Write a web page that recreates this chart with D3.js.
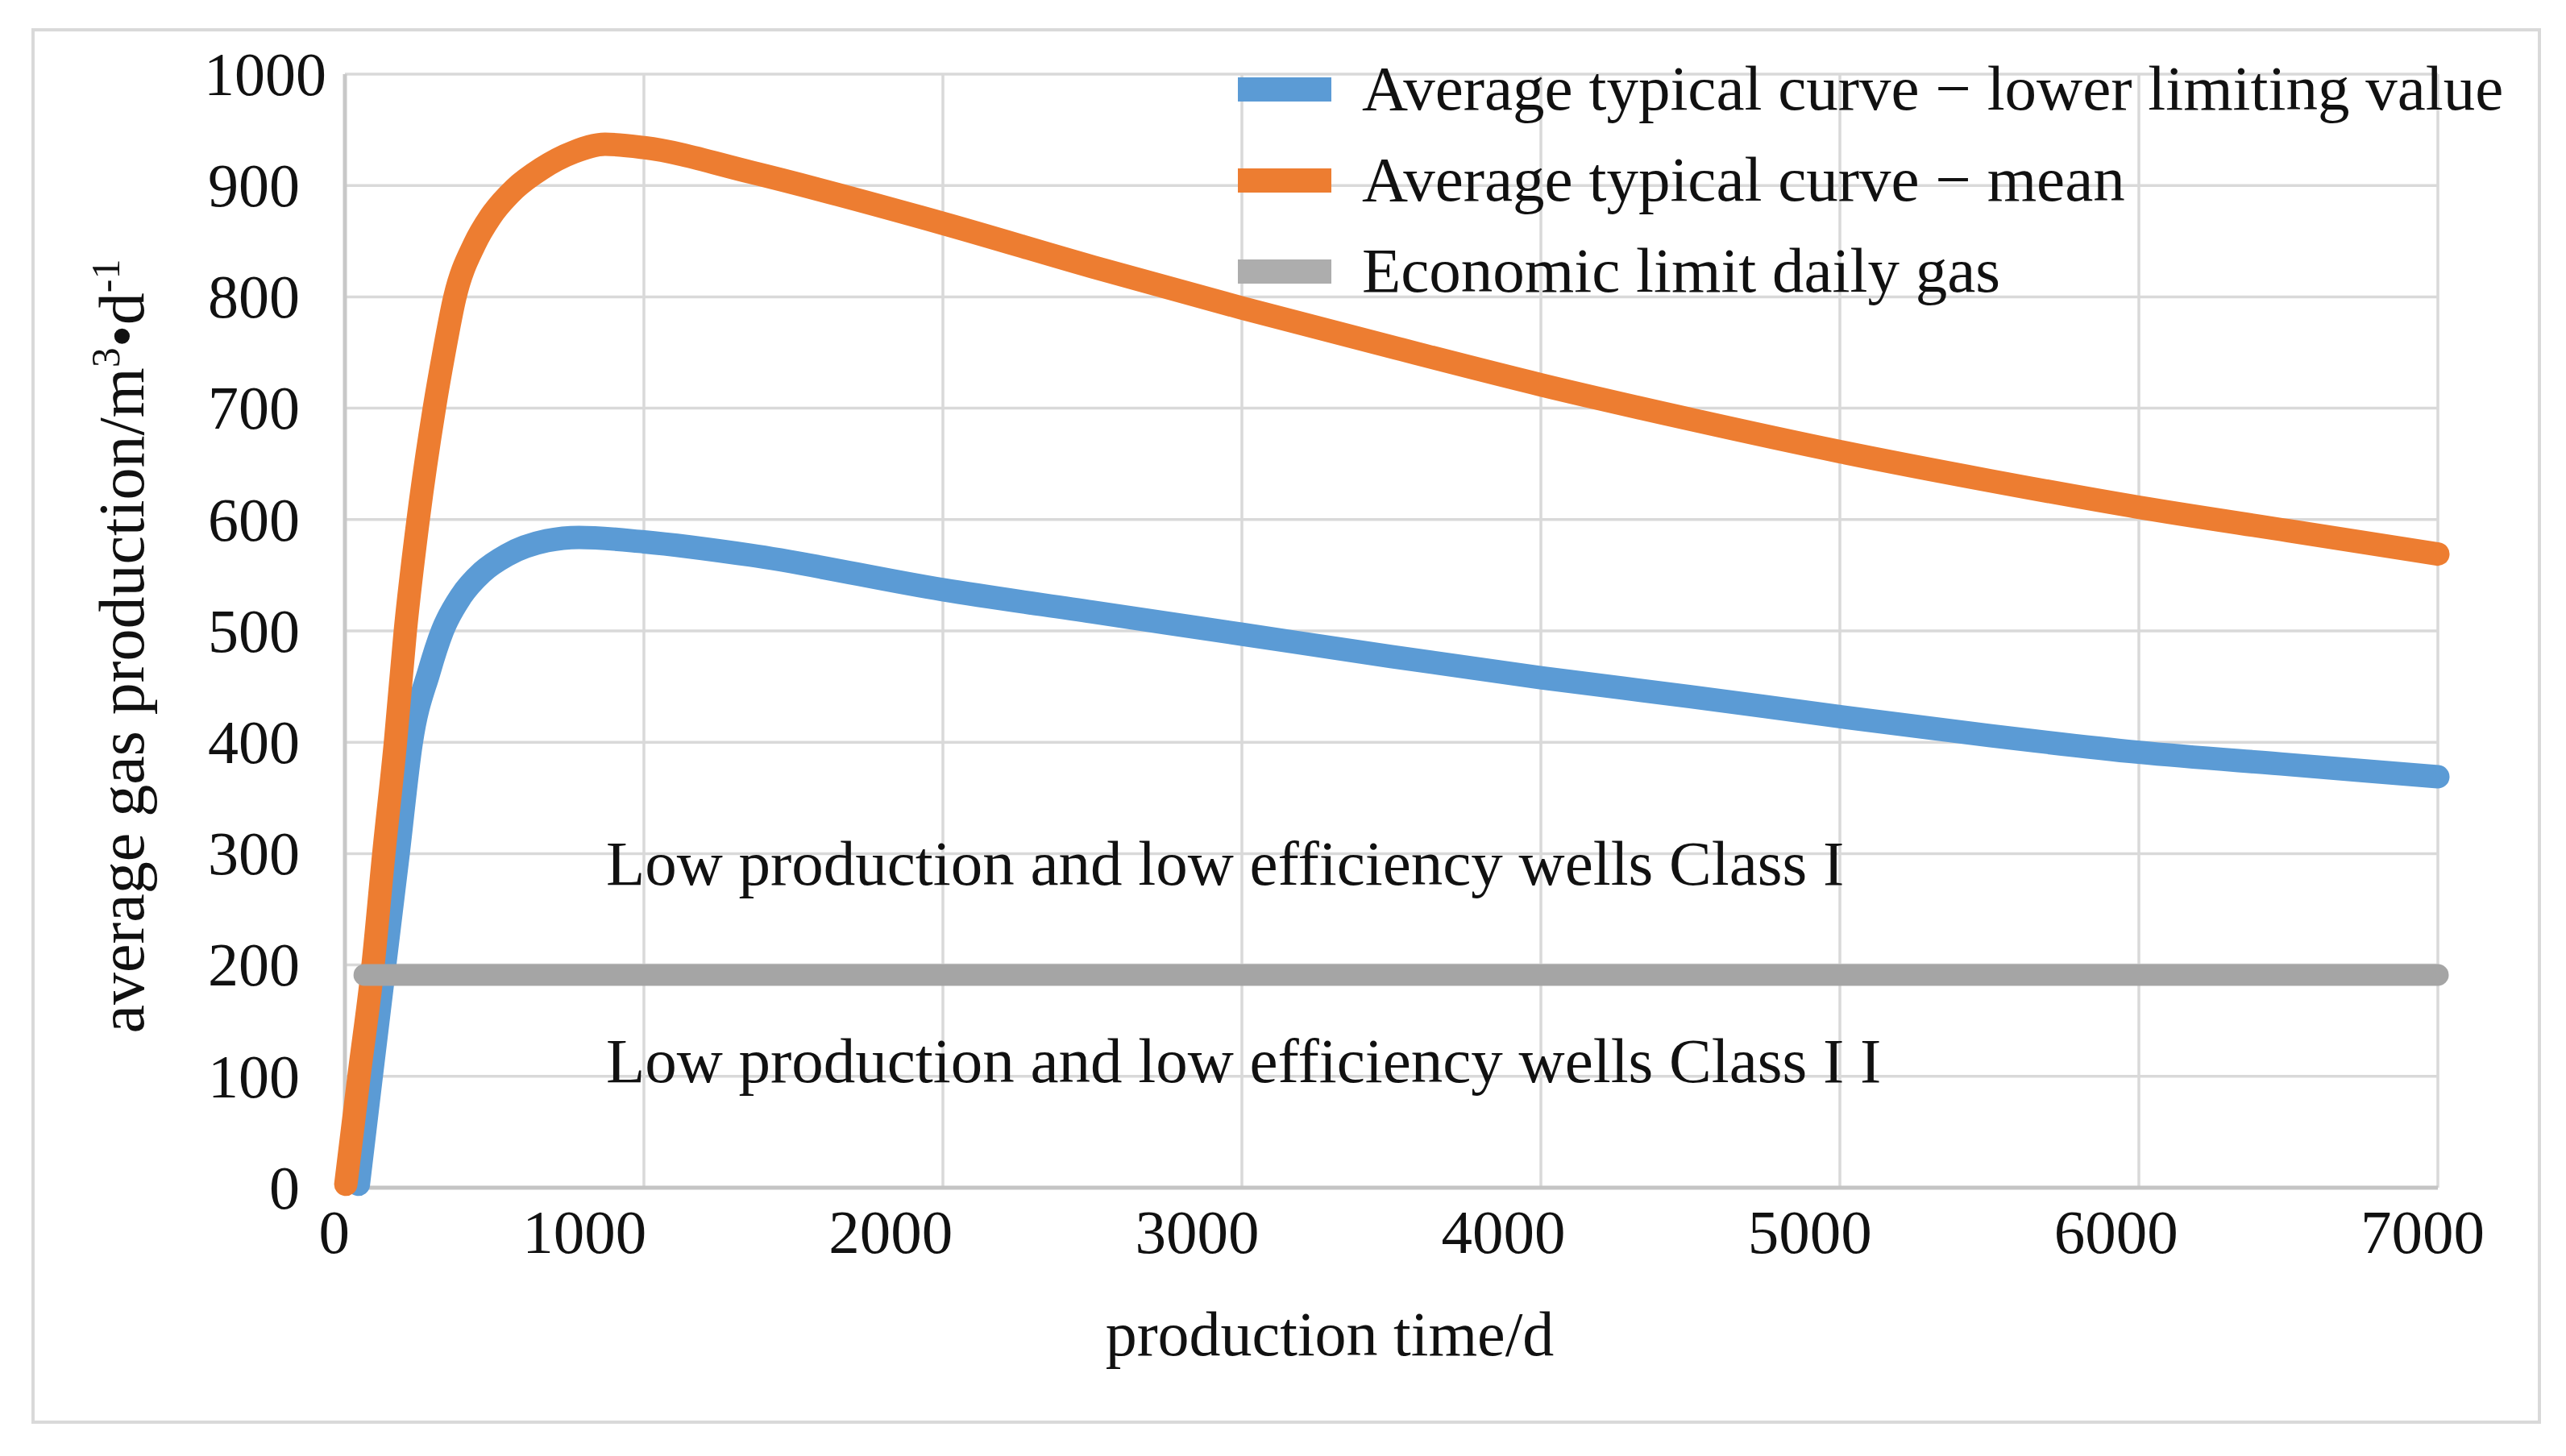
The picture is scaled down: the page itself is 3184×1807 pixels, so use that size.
<!DOCTYPE html>
<html>
<head>
<meta charset="utf-8">
<script src="https://cdn.jsdelivr.net/npm/d3@7"></script>
<style>
  body { margin: 0; background: #fff; }
  text { font-family: "Liberation Serif", "Times New Roman", serif; fill: #111; }
</style>
</head>
<body>
<script>
// ticks
const xTicks = [0, 1000, 2000, 3000, 4000, 5000, 6000, 7000];
const yTicks = [0, 100, 200, 300, 400, 500, 600, 700, 800, 900, 1000];

// Average typical curve - lower limiting value (blue)
const lowerDays = [45, 88, 133, 178, 222, 281, 326, 388, 460, 541, 675, 783, 1000, 1357, 2000, 2500, 3000, 3500, 4000, 4500, 5000, 5500, 6000, 6500, 7000];
const lowerRate = [3, 100, 200, 300, 400, 463, 500, 531, 553, 568, 581, 584, 580, 568, 537, 517, 497, 477, 458, 441, 423, 406, 391, 380, 369];

// Average typical curve - mean (orange)
const meanDays = [3, 47, 94, 130, 169, 202, 245, 299, 330, 368, 433, 487, 568, 657, 765, 870, 1000, 1357, 2000, 2500, 3000, 3500, 4000, 4500, 5000, 5500, 6000, 6500, 7000];
const meanRate = [3, 100, 200, 300, 400, 500, 600, 700, 748, 800, 847, 872, 897, 915, 930, 937, 934, 912, 866, 827, 790, 755, 721, 690, 661, 635, 611, 590, 569];

// Economic limit daily gas (gray)
const limitDays = [65, 7000];
const limitRate = [191, 191];

const seriesNames = [
    "Average typical curve \u2212 lower limiting value",
    "Average typical curve \u2212 mean",
    "Economic limit daily gas"
];
const seriesColors = ["#5B9BD5", "#ED7D31", "#A5A5A5"];
const legendColors = ["#5B9BD5", "#ED7D31", "#ADADAD"];

const zoneLabels = [
    "Low production and low efficiency wells Class I",
    "Low production and low efficiency wells Class I I"
];

const chart = {
    width: 3184,
    height: 1807,
    plot: { left: 428, right: 3025, top: 92, bottom: 1474 }
}

let svg = d3.select("body")
    .append("svg")
    .attr("width", chart.width)
    .attr("height", chart.height);

svg.append("rect")
    .attr("width", chart.width)
    .attr("height", chart.height)
    .attr("fill", "#fff");

// outer chart border
svg.append("rect")
    .attr("x", 41)
    .attr("y", 37)
    .attr("width", 3110)
    .attr("height", 1728)
    .attr("fill", "none")
    .attr("stroke", "#d9d9d9")
    .attr("stroke-width", 4);

let x = d3.scaleLinear().domain([0, 7000]).range([chart.plot.left, chart.plot.right]);
let y = d3.scaleLinear().domain([0, 1000]).range([chart.plot.bottom, chart.plot.top]);
// tick labels in the source sit a little off the grid lines
let xLabel = d3.scaleLinear().domain([0, 7000]).range([422, 3083]);

// grid
svg.append("g")
    .selectAll("line")
    .data(yTicks.filter(d => d > 0))
    .enter()
    .append("line")
    .attr("x1", chart.plot.left)
    .attr("x2", chart.plot.right)
    .attr("y1", d => y(d))
    .attr("y2", d => y(d))
    .attr("stroke", "#d9d9d9")
    .attr("stroke-width", 3.5);

svg.append("g")
    .selectAll("line")
    .data(xTicks)
    .enter()
    .append("line")
    .attr("x1", d => x(d))
    .attr("x2", d => x(d))
    .attr("y1", chart.plot.top)
    .attr("y2", chart.plot.bottom)
    .attr("stroke", d => d == 0 ? "#c8c8c8" : "#d9d9d9")
    .attr("stroke-width", d => d == 0 ? 5 : 3.5);

// x axis line
svg.append("line")
    .attr("x1", chart.plot.left)
    .attr("x2", chart.plot.right)
    .attr("y1", y(0))
    .attr("y2", y(0))
    .attr("stroke", "#c4c4c4")
    .attr("stroke-width", 5);

// tick labels (the top one overhangs to the right in the source)
svg.append("g")
    .selectAll("text")
    .data(yTicks)
    .enter()
    .append("text")
    .attr("x", d => d == 1000 ? 405 : 372)
    .attr("y", d => y(d))
    .attr("dy", "0.34em")
    .attr("text-anchor", "end")
    .style("font-size", "76px")
    .text(d => d);

svg.append("g")
    .selectAll("text")
    .data(xTicks)
    .enter()
    .append("text")
    .attr("x", d => d == 0 ? 434 : xLabel(d))
    .attr("y", 1555)
    .attr("text-anchor", "end")
    .style("font-size", "77px")
    .text(d => d);

// axis titles
svg.append("text")
    .attr("x", 1650)
    .attr("y", 1682)
    .attr("text-anchor", "middle")
    .style("font-size", "78px")
    .text("production time/d");

let yTitle = svg.append("text")
    .attr("transform", "translate(178,802) rotate(-90)")
    .attr("text-anchor", "middle")
    .style("font-size", "80px");
yTitle.append("tspan").text("average gas production/m");
yTitle.append("tspan").attr("dy", -30).style("font-size", "50px").text("3");
yTitle.append("tspan").attr("dy", 30).text("\u2022d");
yTitle.append("tspan").attr("dy", -30).style("font-size", "50px").text("-1");

// zone labels
svg.append("g")
    .selectAll("text")
    .data(zoneLabels)
    .enter()
    .append("text")
    .attr("x", x(873))
    .attr("y", (d, i) => i == 0 ? y(272) : y(95))
    .style("font-size", "79px")
    .text(d => d);

// curves
let line = d3.line()
    .x(d => x(d[0]))
    .y(d => y(d[1]))
    .curve(d3.curveMonotoneX);

let series = [
    d3.zip(lowerDays, lowerRate),
    d3.zip(meanDays, meanRate),
    d3.zip(limitDays, limitRate)
];

svg.append("g")
    .selectAll("path")
    .data(series)
    .enter()
    .append("path")
    .attr("d", d => line(d))
    .attr("fill", "none")
    .attr("stroke", (d, i) => seriesColors[i])
    .attr("stroke-width", (d, i) => i == 2 ? 27 : 29)
    .attr("stroke-linecap", "round")
    .attr("stroke-linejoin", "round");

// legend
let legend = svg.append("g")
    .selectAll("g")
    .data(seriesNames)
    .enter()
    .append("g")
    .attr("transform", (d, i) => `translate(0,${111 + i * 113})`);

legend.append("rect")
    .attr("x", 1536)
    .attr("y", -15)
    .attr("width", 116)
    .attr("height", 30)
    .attr("fill", (d, i) => legendColors[i]);

legend.append("text")
    .attr("x", 1690)
    .attr("y", 25)
    .style("font-size", "79px")
    .text(d => d);
</script>
</body>
</html>
